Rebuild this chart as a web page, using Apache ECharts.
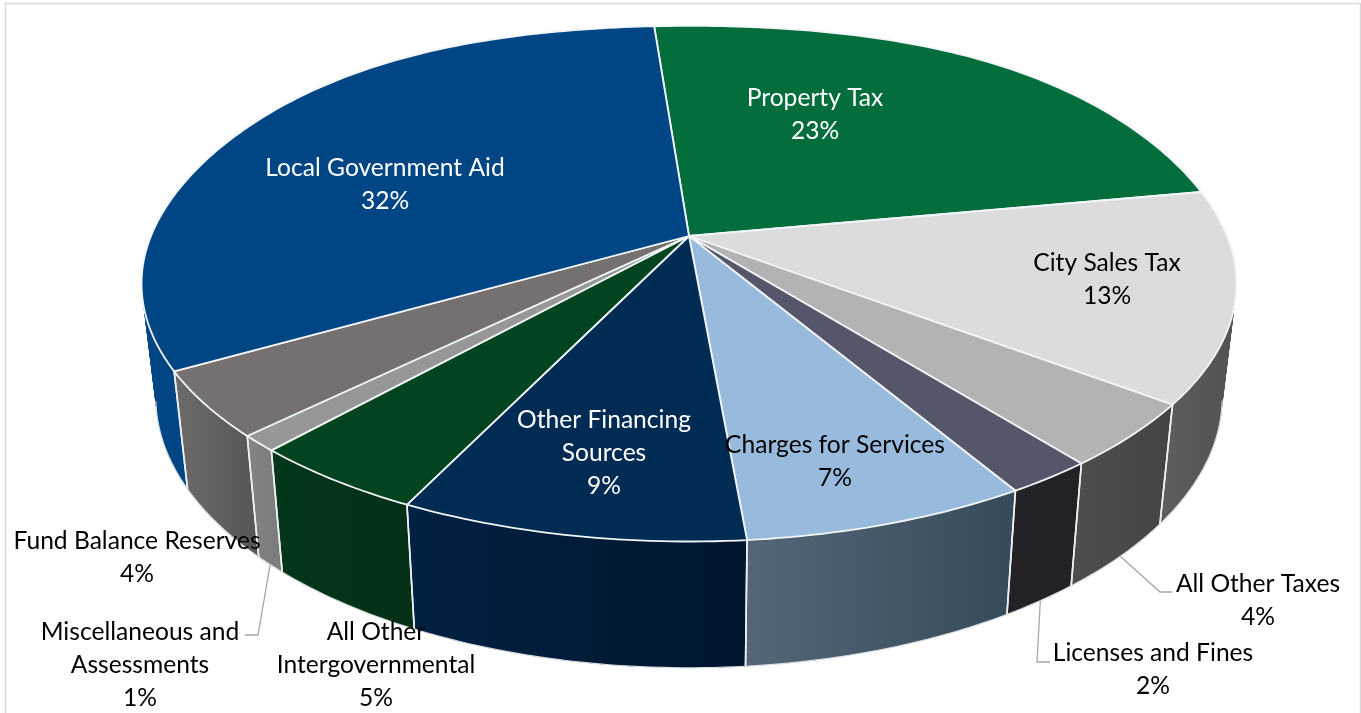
<!DOCTYPE html>
<html>
<head>
<meta charset="utf-8">
<style>html,body{margin:0;padding:0;background:#fff}#c{width:1361px;height:713px}</style>
<script src="https://cdn.jsdelivr.net/npm/echarts@6/dist/echarts.min.js"></script>
</head>
<body>
<div id="c"></div>
<script>
// ---- data (clockwise from the Property Tax slice); shares, labels as printed
const categories = ['Property Tax','City Sales Tax','All Other Taxes','Licenses and Fines','Charges for Services','Other Financing Sources','All Other Intergovernmental','Miscellaneous and Assessments','Fund Balance Reserves','Local Government Aid'];
const shares = [23.35,13.15,4.0,2.2,7.12,8.6,4.48,1.0,4.1,32.0];
const printedPercents = ['23%','13%','4%','2%','7%','9%','5%','1%','4%','32%'];
const labelLines = [['Property Tax'],['City Sales Tax'],['All Other Taxes'],['Licenses and Fines'],['Charges for Services'],['Other Financing','Sources'],['All Other','Intergovernmental'],['Miscellaneous and','Assessments'],['Fund Balance Reserves'],['Local Government Aid']];

// ---- styles
const topColors = ['#036E3C','#DCDCDC','#B3B3B3','#55566A','#98BBDD','#002B52','#034420','#979797','#767171','#014684'];
const wallFrom  = ['#036E3C','#5E5E5E','#4E4E4E','#232227','#546779','#012143','#03361B','#848484','#6E6A6A','#014684'];
const wallTo    = ['#025a30','#525252','#444444','#222125','#374A59','#00162D','#033017','#7A7A7A','#565656','#01427C'];
const labelColors = ['#fff','#000','#000','#000','#000','#fff','#000','#000','#000','#fff'];
const labelCenters = [[815,115],[1107,280],[1258,601],[1153,669.5],[835,462],[604,453.5],[376,665.5],[140,665.5],[137,558],[385,184.5]];
const leaderBends = [null,null,[[1160,592],[1172,592]],[[1037,662],[1050,662]],null,null,null,[[258,635],[245,635]],null,null];

// ---- projection of the tilted disc
const APEX = [689,236], CX = 538, CY = 249, K = -0.185, START = -4.4, BULGE = 6;
const BOTTOM_X = 0.974, BOTTOM_Y = 1.05, BOTTOM_DY = 111;
const total = shares.reduce((a,b)=>a+b,0);
const starts = []; shares.reduce((acc,v,i)=>{starts[i]=acc; return acc+v;},0);
function ang(share){ return (START + share/total*360) * Math.PI/180; }
function rel(t){
  const u=Math.sin(t), v=-Math.cos(t), d=1+K*v, s=Math.sin(2*t);
  return [CX*u/d, CY*v/d - (v<0 ? BULGE*s*s : 0)];
}
function topPt(t){ const p=rel(t); return [APEX[0]+p[0], APEX[1]+p[1]]; }
function botPt(t){ const p=rel(t); return [APEX[0]+BOTTOM_X*p[0], APEX[1]+BOTTOM_DY+BOTTOM_Y*p[1]]; }
function arcAngles(i){
  const a=ang(starts[i]), b=ang(starts[i]+shares[i]), n=Math.max(8,Math.ceil((b-a)*60)), out=[];
  for(let j=0;j<=n;j++) out.push(a+(b-a)*j/n);
  return out;
}
const items = categories.map((name,i)=>({name,value:shares[i]}));
const EDGE = '#eef1f4';

const option = {
  animation:false,
  backgroundColor:'#fff',
  graphic:[
    {type:'polyline',silent:true,z:0,shape:{points:[[5.5,713],[5.5,3.5],[1360.5,3.5],[1360.5,713]]},style:{stroke:'#d9d9d9',lineWidth:1.5,fill:null}}
  ],
  series:[
    { // side walls: overlapping strips between the top rim and the bottom rim
      type:'custom',coordinateSystem:'none',z:2,data:items,
      renderItem(params){
        const i=params.dataIndex, as=arcAngles(i), children=[], n=as.length-1;
        const tops=as.map(topPt), bots=as.map(botPt);
        const xs=tops.concat(bots).map(p=>p[0]);
        const grad=new echarts.graphic.LinearGradient(Math.min(...xs),0,Math.max(...xs),0,
          [{offset:0,color:wallFrom[i]},{offset:1,color:wallTo[i]}],true);
        for(let j=0;j<n;j++){
          const e=Math.min(j+3,n);
          children.push({type:'polygon',shape:{points:tops.slice(j,e+1).concat(bots.slice(j,e+1).reverse())},
            style:{fill:grad}});
        }
        const front=as.filter(t=>-Math.cos(t)>=-K);
        children.push({type:'polyline',shape:{points:[tops[0],bots[0]]},style:{stroke:EDGE,lineWidth:1.6,fill:null},z2:2});
        children.push({type:'polyline',shape:{points:[tops[n],bots[n]]},style:{stroke:EDGE,lineWidth:1.6,fill:null},z2:2});
        if(front.length>1) children.push({type:'polyline',shape:{points:front.map(botPt)},style:{stroke:'#dcdfe2',lineWidth:1.2,fill:null},z2:2});
        return {type:'group',children};
      }
    },
    { // top faces
      type:'custom',coordinateSystem:'none',z:3,data:items,
      renderItem(params){
        const i=params.dataIndex;
        return {type:'polygon',shape:{points:[APEX].concat(arcAngles(i).map(topPt))},style:{
          fill:topColors[i],stroke:'#f2f5f7',lineWidth:1.8,lineJoin:'round'}};
      }
    },
    { // labels and leader lines
      type:'custom',coordinateSystem:'none',z:4,data:items,
      renderItem(params){
        const i=params.dataIndex, children=[];
        if(leaderBends[i]){
          const start=botPt(ang(starts[i]+shares[i]/2));
          children.push({type:'polyline',shape:{points:[start].concat(leaderBends[i])},style:{stroke:'#a6a6a6',lineWidth:1.3,fill:null}});
        }
        children.push({type:'text',x:labelCenters[i][0],y:labelCenters[i][1],style:{
          text:labelLines[i].concat([printedPercents[i]]).join('\n'),
          fill:labelColors[i],font:'24.6px Lato, "Open Sans", sans-serif',
          lineHeight:33,align:'center',verticalAlign:'middle'}});
        return {type:'group',children};
      }
    }
  ]
};
const chart = echarts.init(document.getElementById('c'),null,{renderer:'canvas'});
chart.setOption(option);
</script>
</body>
</html>
